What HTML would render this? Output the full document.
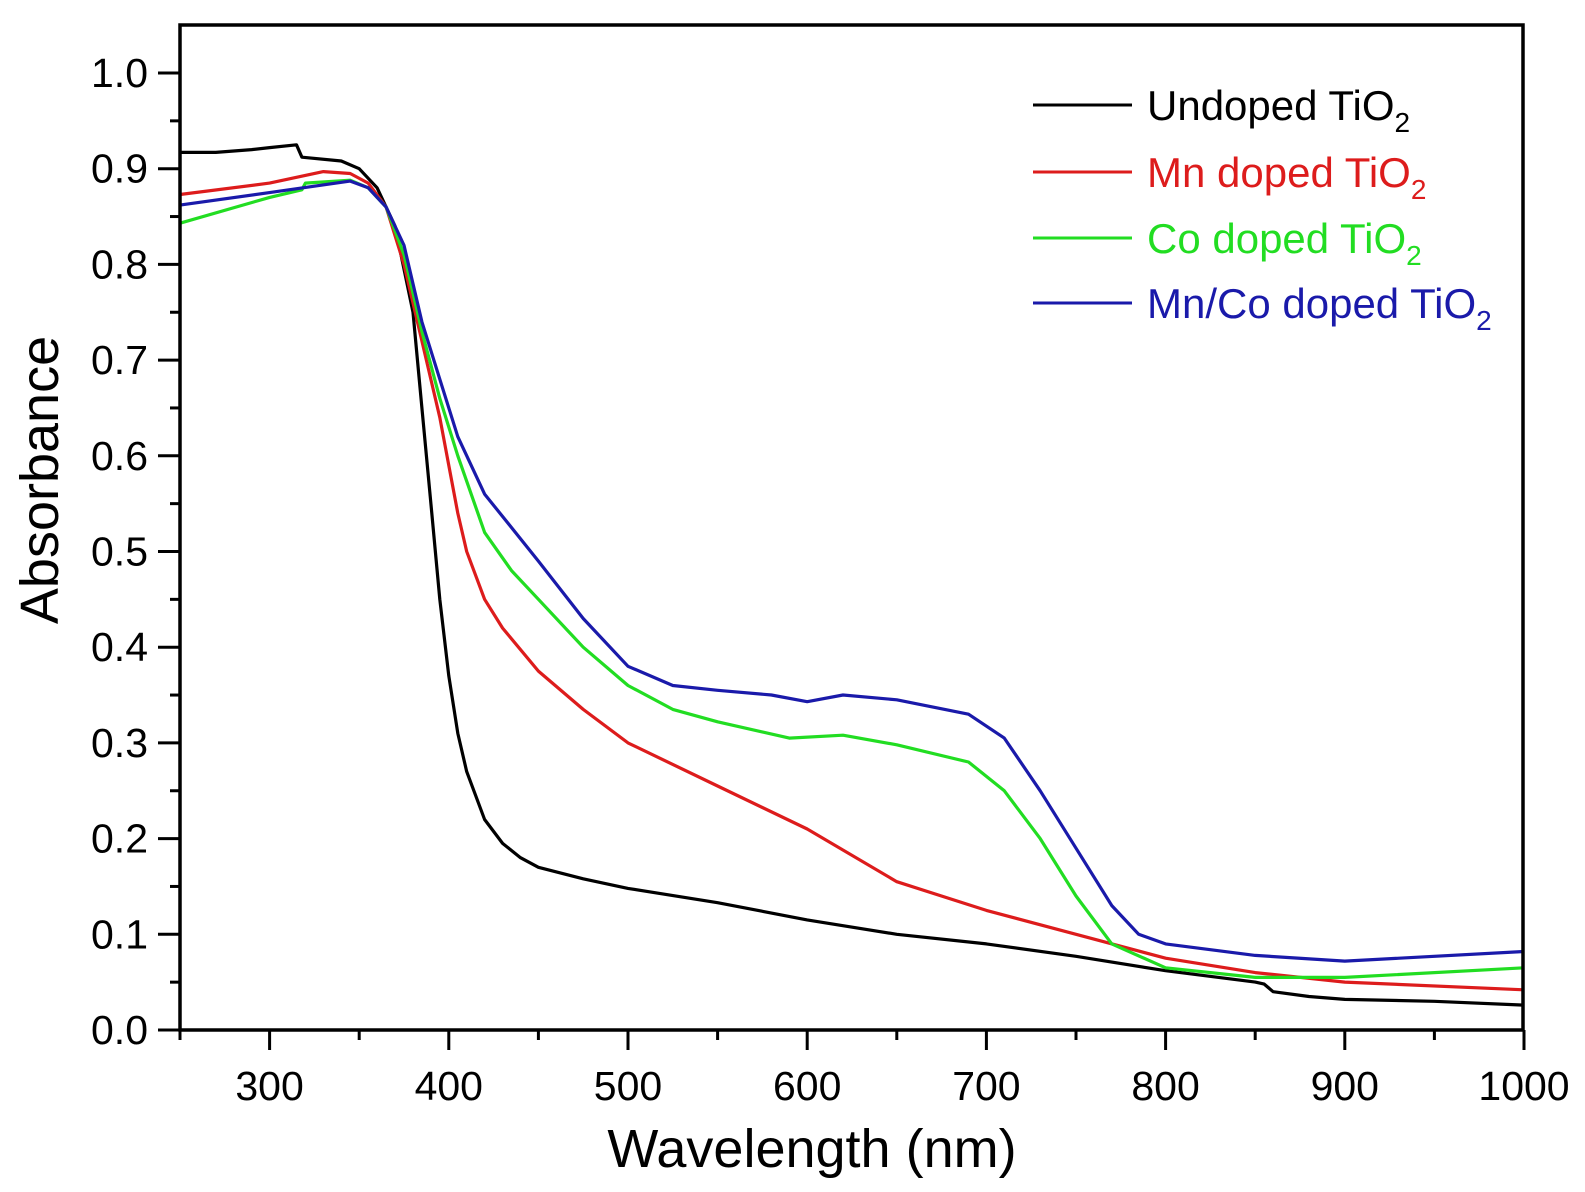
<!DOCTYPE html>
<html><head><meta charset="utf-8"><style>
html,body{margin:0;padding:0;background:#fff}
svg{display:block}
text{font-family:"Liberation Sans",sans-serif}
</style></head><body>
<svg id="s" width="1585" height="1192" xmlns="http://www.w3.org/2000/svg">
<g id="ticks" stroke="#000" stroke-width="3"></g>
<g id="lab" font-size="41" fill="#000"></g>
<g id="curves" fill="none" stroke-width="3.2" stroke-linejoin="round"></g>
<rect x="180" y="25" width="1343" height="1005" fill="none" stroke="#000" stroke-width="3.5"/>
<text x="812" y="1167" font-size="54" text-anchor="middle">Wavelength (nm)</text>
<text transform="translate(58,480) rotate(-90)" font-size="54" text-anchor="middle">Absorbance</text>
<g font-size="42">
<line x1="1033" y1="105" x2="1132" y2="105" stroke="#000" stroke-width="3"/>
<text x="1147" y="120" fill="#000">Undoped TiO<tspan font-size="28" dy="12">2</tspan></text>
<line x1="1033" y1="172" x2="1132" y2="172" stroke="#dd1c1c" stroke-width="3"/>
<text x="1147" y="187" fill="#dd1c1c">Mn doped TiO<tspan font-size="28" dy="12">2</tspan></text>
<line x1="1033" y1="238" x2="1132" y2="238" stroke="#22dd22" stroke-width="3"/>
<text x="1147" y="253" fill="#22dd22">Co doped TiO<tspan font-size="28" dy="12">2</tspan></text>
<line x1="1033" y1="303" x2="1132" y2="303" stroke="#1a1aaa" stroke-width="3"/>
<text x="1147" y="318" fill="#1a1aaa">Mn/Co doped TiO<tspan font-size="28" dy="12">2</tspan></text>
</g>
</svg>
<script>
var NS="http://www.w3.org/2000/svg";
function X(w){return 180+(w-250)*1.792;}
function Y(a){return 1030-a*957;}
var t=document.getElementById("ticks"),l=document.getElementById("lab");
function ln(x1,y1,x2,y2){var e=document.createElementNS(NS,"line");e.setAttribute("x1",x1);e.setAttribute("y1",y1);e.setAttribute("x2",x2);e.setAttribute("y2",y2);t.appendChild(e);}
function tx(x,y,s,a){var e=document.createElementNS(NS,"text");e.setAttribute("x",x);e.setAttribute("y",y);e.setAttribute("text-anchor",a);e.textContent=s;l.appendChild(e);}
for(var w=250;w<=1000;w+=50){var maj=(w%100==0);ln(X(w),1030,X(w),1030+(maj?20:10));if(maj)tx(X(w),1100,""+w,"middle");}
for(var i=0;i<=20;i++){var a=i*0.05,maj=(i%2==0);ln(180,Y(a),180-(maj?22:10),Y(a));if(maj)tx(148,Y(a)+14,(a).toFixed(1),"end");}
var D={
"#000":[[250,.917],[270,.917],[290,.92],[300,.922],[315,.925],[318,.912],[340,.908],[350,.9],[360,.88],[370,.84],[380,.75],[385,.65],[390,.55],[395,.45],[400,.37],[405,.31],[410,.27],[420,.22],[430,.195],[440,.18],[450,.17],[475,.158],[500,.148],[550,.133],[600,.115],[650,.1],[700,.09],[750,.077],[800,.062],[850,.05],[855,.048],[860,.04],[880,.035],[900,.032],[950,.03],[1000,.026]],
"#dd1c1c":[[250,.873],[300,.885],[330,.897],[345,.895],[355,.885],[365,.86],[375,.8],[385,.72],[395,.64],[400,.59],[405,.54],[410,.5],[420,.45],[430,.42],[450,.375],[475,.335],[500,.3],[550,.255],[600,.21],[650,.155],[700,.125],[750,.1],[800,.075],[850,.06],[900,.05],[1000,.042]],
"#22dd22":[[250,.843],[300,.87],[318,.878],[320,.885],[345,.888],[355,.88],[365,.86],[375,.81],[385,.73],[395,.66],[405,.6],[420,.52],[435,.48],[450,.45],[475,.4],[500,.36],[525,.335],[550,.322],[590,.305],[620,.308],[650,.298],[690,.28],[710,.25],[730,.2],[750,.14],[770,.09],[800,.065],[850,.055],[900,.055],[1000,.065]],
"#1a1aaa":[[250,.862],[300,.875],[345,.887],[355,.88],[365,.86],[375,.82],[385,.74],[395,.68],[405,.62],[420,.56],[450,.49],[475,.43],[500,.38],[525,.36],[550,.355],[580,.35],[600,.343],[620,.35],[650,.345],[690,.33],[710,.305],[730,.25],[750,.19],[770,.13],[785,.1],[800,.09],[850,.078],[900,.072],[1000,.082]]};
var g=document.getElementById("curves");
["#000","#dd1c1c","#22dd22","#1a1aaa"].forEach(function(c){var p=D[c],d="";p.forEach(function(q,i){d+=(i?"L":"M")+X(q[0]).toFixed(1)+","+Y(q[1]).toFixed(1);});var e=document.createElementNS(NS,"path");e.setAttribute("d",d);e.setAttribute("stroke",c);g.appendChild(e);});
</script>
</body></html>
